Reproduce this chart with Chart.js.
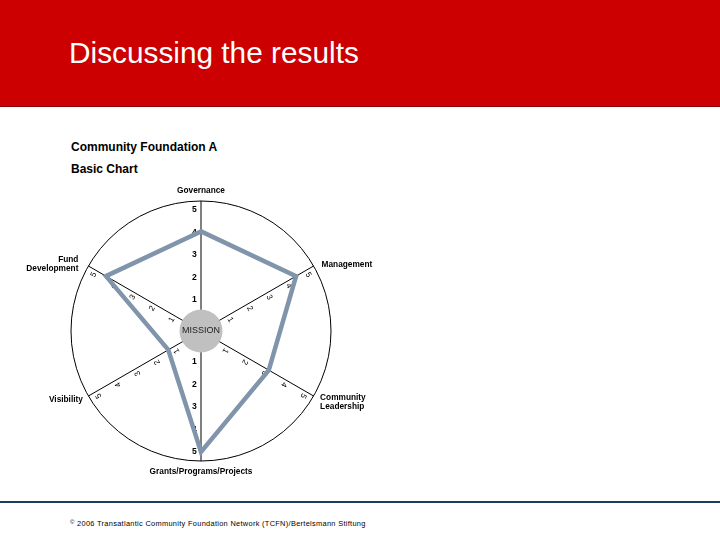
<!DOCTYPE html>
<html>
<head>
<meta charset="utf-8">
<script src="https://cdn.jsdelivr.net/npm/chart.js@4/dist/chart.umd.min.js"></script>
<style>
  html, body { margin: 0; padding: 0; background: #fff; }
  body { width: 720px; height: 540px; position: relative; overflow: hidden; font-family: "Liberation Sans", Arial, sans-serif; }
  #header { position: absolute; left: 0; top: 0; width: 720px; height: 106px; background: #cc0000; border-bottom: 1px solid #8e0000; }
  #title { position: absolute; left: 69px; top: 38px; font-size: 29.8px; line-height: 30px; color: #fff; white-space: nowrap; }
  .sub { position: absolute; left: 71px; font-size: 12px; font-weight: bold; color: #000; line-height: 14px; white-space: nowrap; }
  #footline { position: absolute; left: 0; top: 501px; width: 720px; height: 2px; background: #1d3b5a; }
  #foot { position: absolute; left: 70px; top: 517px; font-size: 7.4px; line-height: 10px; color: #000; white-space: nowrap; letter-spacing: 0.31px; }
  #foot sup { font-size: 6px; vertical-align: 2px; }
  #wrap { position: absolute; left: 0; top: 0; width: 720px; height: 540px; }
</style>
</head>
<body>
<div id="header"><div id="title">Discussing the results</div></div>
<div class="sub" style="top:140px">Community Foundation A</div>
<div class="sub" style="top:162px">Basic Chart</div>
<div id="footline"></div>
<div id="foot"><sup>©</sup> 2006 Transatlantic Community Foundation Network (TCFN)/Bertelsmann Stiftung</div>
<div id="wrap"><canvas id="c" width="720" height="540"></canvas></div>
<script>
// ---- data ----
const categories = [
  ["Governance"],
  ["Management"],
  ["Community", "Leadership"],
  ["Grants/Programs/Projects"],
  ["Visibility"],
  ["Fund", "Development"]
];
const scores = [4.05, 4.5, 3.1, 5, 1.3, 4.5];
const tickLabels = [1, 2, 3, 4, 5];
const centerLabel = "MISSION";

// ---- layout (positions / styles, not data) ----
const labelLayout = [
  { dx: 0, dy: 0, extra: 10, align: "center" },
  { dx: 8, dy: -1, extra: 0, align: "left" },
  { dx: 6.5, dy: 2, extra: 0, align: "left" },
  { dx: 0, dy: 0, extra: 10.5, align: "center" },
  { dx: -5.5, dy: 4, extra: 0, align: "right" },
  { dx: -10, dy: -6, extra: 0, align: "right" }
];

const deco = {
  id: "deco",
  beforeDatasetsDraw(chart) {
    const s = chart.scales.r, ctx = chart.ctx;
    ctx.save();
    ctx.beginPath();
    ctx.arc(s.xCenter, s.yCenter, s.drawingArea, 0, Math.PI * 2);
    ctx.strokeStyle = "#000";
    ctx.lineWidth = 1;
    ctx.stroke();
    ctx.fillStyle = "#000";
    ctx.textAlign = "center";
    ctx.textBaseline = "middle";
    categories.forEach((c, i) => {
      const ang = s.getIndexAngle(i) - Math.PI / 2;
      const ux = Math.cos(ang), uy = Math.sin(ang);
      const vertical = Math.abs(ux) < 0.01;
      tickLabels.forEach(v => {
        const d = s.getDistanceFromCenterForValue(v);
        let x = s.xCenter + ux * d, y = s.yCenter + uy * d;
        if (vertical) {
          ctx.font = "bold 8.6px 'Liberation Sans', Arial, sans-serif";
          ctx.fillText(String(v), x - 6.5, y);
        } else {
          let nx = -uy, ny = ux;
          if (ny < 0) { nx = -nx; ny = -ny; }
          x += nx * 5; y += ny * 5;
          ctx.save();
          ctx.translate(x, y);
          ctx.rotate(Math.atan2(ux, -uy));
          ctx.font = "8px 'Liberation Sans', Arial, sans-serif";
          ctx.fillText(String(v), 0, 0);
          ctx.restore();
        }
      });
    });
    ctx.restore();
  },
  afterDatasetsDraw(chart) {
    const s = chart.scales.r, ctx = chart.ctx;
    ctx.save();
    // mission circle
    ctx.beginPath();
    ctx.arc(s.xCenter, s.yCenter, 21.5, 0, Math.PI * 2);
    ctx.fillStyle = "#c0c0c0";
    ctx.fill();
    ctx.fillStyle = "#222";
    ctx.font = "9px 'Liberation Sans', Arial, sans-serif";
    ctx.textAlign = "center";
    ctx.textBaseline = "middle";
    ctx.fillText(centerLabel, s.xCenter, s.yCenter);
    // axis titles
    ctx.fillStyle = "#000";
    ctx.font = "bold 8.3px 'Liberation Sans', Arial, sans-serif";
    categories.forEach((lines, i) => {
      const L = labelLayout[i];
      const p = s.getPointPosition(i, s.drawingArea + L.extra);
      ctx.textAlign = L.align;
      const n = lines.length;
      lines.forEach((t, k) => {
        const y = p.y + L.dy + (k - (n - 1) / 2) * 8.7 + (n > 1 ? 4.35 : 0);
        ctx.fillText(t, p.x + L.dx, y);
      });
    });
    ctx.restore();
  }
};

new Chart(document.getElementById("c"), {
  type: "radar",
  data: {
    labels: categories,
    datasets: [{
      data: scores,
      borderColor: "#8094ab",
      borderWidth: 4.5,
      backgroundColor: "rgba(0,0,0,0)",
      fill: false,
      pointRadius: 0,
      pointHoverRadius: 0,
      borderJoinStyle: "miter",
      tension: 0
    }]
  },
  options: {
    responsive: false,
    animation: false,
    events: [],
    layout: { padding: { left: 71, top: 201, right: 389, bottom: 79 } },
    plugins: { legend: { display: false }, tooltip: { enabled: false } },
    scales: {
      r: {
        min: -0.38,
        max: 5.4,
        beginAtZero: false,
        startAngle: 0,
        grid: { display: false },
        angleLines: { display: true, color: "#000", lineWidth: 1 },
        ticks: { display: false },
        pointLabels: { display: false }
      }
    }
  },
  plugins: [deco]
});
</script>
</body>
</html>
